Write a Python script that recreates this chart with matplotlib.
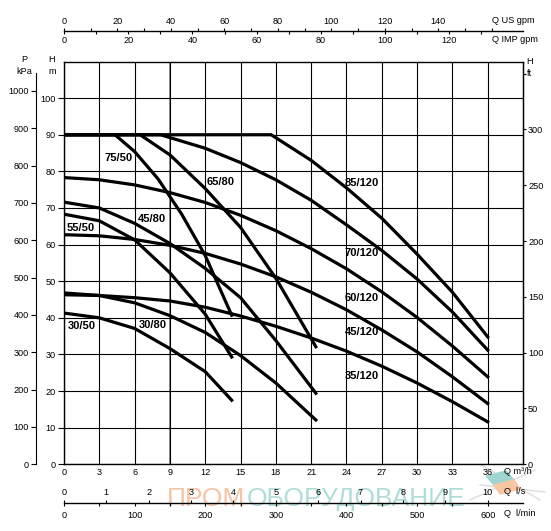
import numpy as np
import matplotlib
matplotlib.use('Agg')
import matplotlib.pyplot as plt
from matplotlib import font_manager
from matplotlib.ticker import FixedLocator
from matplotlib.patches import Polygon

# шрифт: вузький, якщо є
names = {f.name for f in font_manager.fontManager.ttflist}
narrow = 'Liberation Sans Narrow' if 'Liberation Sans Narrow' in names else 'Liberation Sans'
plt.rcParams['font.family'] = [narrow, 'DejaVu Sans']

# ---- дані кривих: Q, m3/h  ->  H, m ----
q_30_50 = [0, 3, 6, 9, 12, 14.25]
h_30_50 = [41.3, 40.0, 37.1, 31.6, 25.3, 17.5]

q_55_50 = [0, 3, 6, 9, 12, 14.25]
h_55_50 = [68.3, 66.5, 61.3, 52.3, 41.0, 29.3]

q_75_50 = [0, 4.33, 6, 8, 10, 12, 14.25]
h_75_50 = [90, 90, 85.4, 77.9, 68.3, 57.0, 40.7]

q_30_80 = [0, 3, 6, 9, 12, 15, 18, 21.4]
h_30_80 = [46.8, 46.1, 44.1, 40.6, 36.0, 29.7, 22.2, 12.1]

q_45_80 = [0, 3, 6, 9, 12, 15, 18, 21.4]
h_45_80 = [71.6, 70.0, 65.8, 60.3, 53.5, 45.5, 33.8, 19.4]

q_65_80 = [0, 6.46, 9, 12, 15, 18, 21.4]
h_65_80 = [90, 90, 84.5, 75.3, 64.7, 50.8, 32.1]

q_120 = [0, 3, 6, 9, 12, 15, 18, 21, 24, 27, 30, 33, 36]
h_35_120 = [46.3, 46.1, 45.5, 44.6, 42.9, 40.5, 37.7, 34.5, 30.9, 26.8, 22.2, 17.1, 11.6]
h_45_120 = [62.7, 62.4, 61.4, 59.8, 57.6, 54.7, 51.2, 47.0, 42.2, 36.7, 30.7, 23.9, 16.6]
h_60_120 = [78.3, 77.7, 76.3, 74.2, 71.5, 68.0, 63.8, 58.9, 53.4, 47.1, 40.1, 32.3, 23.9]

q_70_120 = [0, 8.2, 12, 15, 18, 21, 24, 27, 30, 33, 36]
h_70_120 = [90, 90, 86.3, 82.4, 77.7, 72.1, 65.4, 58.4, 50.6, 41.6, 31.2]

q_85_120 = [0, 17.6, 21, 24, 27, 30, 33, 36]
h_85_120 = [90, 90, 83.0, 75.5, 67.2, 57.4, 47.0, 34.8]

names_curves = ['30/50', '55/50', '75/50', '30/80', '45/80', '65/80',
                '35/120', '45/120', '60/120', '70/120', '85/120']

# ---- осі ----
m3h_ticks = np.arange(0, 37, 3)
h_m_ticks = np.arange(0, 101, 10)
kpa_ticks = np.arange(0, 1001, 100)
ft_ticks = np.arange(0, 351, 50)
ft_labels = ['0', '50', '100', '150', '200', '250', '300', '']
us_major = np.arange(0, 141, 20)
us_minor = np.arange(10, 161, 10)
imp_major = np.arange(0, 121, 20)
imp_minor = np.arange(10, 131, 10)
ls_ticks = np.arange(0, 11, 1)
lmin_major = np.arange(0, 601, 100)
lmin_minor = np.arange(50, 601, 50)

W, HP = 551, 531
x0, x1 = 64, 523
y_top, y_bot = 61.5, 464.3
QMAX, HMAX = 39, 110
fs = 6.6


def fx(px):
    return px / W


def fy(py):
    return 1 - py / HP


fig = plt.figure(figsize=(W / 100, HP / 100), dpi=100)
ax = fig.add_axes([fx(x0), fy(y_bot), fx(x1) - fx(x0), fy(y_top) - fy(y_bot)])
ax.set_xlim(0, QMAX)
ax.set_ylim(0, HMAX)
ax.set_xticks(m3h_ticks)
ax.set_yticks(h_m_ticks)
ax.grid(True, color='black', lw=0.8)
ax.axvline(9, color='#8a8a8a', lw=1.4, zorder=1.5)
ax.tick_params(axis='x', length=0, pad=2.7, labelsize=fs)
ax.tick_params(axis='y', length=4.3, width=0.8, pad=1.7, labelsize=fs)
for s in ax.spines.values():
    s.set_linewidth(1.0)

curves = [(q_30_50, h_30_50), (q_55_50, h_55_50), (q_75_50, h_75_50),
          (q_30_80, h_30_80), (q_45_80, h_45_80), (q_65_80, h_65_80),
          (q_120, h_35_120), (q_120, h_45_120), (q_120, h_60_120),
          (q_70_120, h_70_120), (q_85_120, h_85_120)]
for q, h in curves:
    ax.plot(q, h, color='black', lw=2.3, solid_joinstyle='round', zorder=3)

# підписи кривих (центри)
label_pos = {'30/50': (1.53, 37.9), '55/50': (1.4, 64.6), '75/50': (4.67, 83.7),
             '30/80': (7.52, 38.1), '45/80': (7.43, 67.0), '65/80': (13.3, 77.1),
             '35/120': (25.3, 24.1), '45/120': (25.3, 36.1), '60/120': (25.3, 45.5),
             '70/120': (25.3, 57.7), '85/120': (25.3, 76.8)}
for n in names_curves:
    xx, yy = label_pos[n]
    ax.text(xx, yy, n, ha='center', va='center', fontsize=8.0, fontweight='bold', zorder=4)

# шкала тиску, kPa
axp = ax.twinx()
axp.set_ylim(0, HMAX * 9.80665)
for s in ['right', 'top', 'bottom']:
    axp.spines[s].set_visible(False)
axp.spines['left'].set_visible(True)
axp.spines['left'].set_position(('outward', 28 * 0.72))
axp.spines['left'].set_bounds(0, 1048)
axp.yaxis.set_ticks_position('left')
axp.set_yticks(kpa_ticks)
axp.tick_params(length=3.6, width=0.8, pad=1.6, labelsize=fs)

# шкала напору, ft
axf = ax.twinx()
axf.set_ylim(0, HMAX / 0.3048)
for s in ['left', 'top', 'bottom']:
    axf.spines[s].set_visible(False)
axf.set_yticks(ft_ticks)
axf.set_yticklabels(ft_labels)
axf.tick_params(length=2.4, width=0.8, pad=1.2, labelsize=fs)


def scale_axis(py, xmax, major, minor, side, pad, spine=True):
    a = fig.add_axes([fx(x0), fy(py), fx(x1) - fx(x0), 1e-6])
    a.set_xlim(0, xmax)
    a.set_yticks([])
    a.patch.set_visible(False)
    for s in a.spines.values():
        s.set_visible(False)
    if spine:
        a.spines['bottom'].set_visible(True)
        a.spines['bottom'].set_linewidth(1.0)
    a.xaxis.set_ticks_position(side)
    a.set_xticks(major)
    a.xaxis.set_minor_locator(FixedLocator(minor))
    a.tick_params(which='both', direction='out', length=2.4, width=0.8)
    a.tick_params(which='major', pad=pad, labelsize=fs)
    return a


scale_axis(30.7, QMAX * 4.40287, us_major, us_minor, 'top', 1.2)
scale_axis(30.7, QMAX * 3.66615, imp_major, imp_minor, 'bottom', 1.6, spine=False)
scale_axis(503, QMAX / 3.6, ls_ticks, [], 'top', 2.1)
scale_axis(503, QMAX * 1000 / 60, lmin_major, lmin_minor, 'bottom', 3.3, spine=False)

# підписи одиниць
fig.text(fx(491.7), fy(20.7), 'Q US gpm', fontsize=fs, va='center')
fig.text(fx(491.7), fy(39.3), 'Q IMP gpm', fontsize=fs, va='center')
fig.text(fx(504), fy(472), 'Q m³/h', fontsize=fs, va='center')
fig.text(fx(504), fy(491.7), 'Q  l/s', fontsize=fs, va='center')
fig.text(fx(504), fy(514), 'Q  l/min', fontsize=fs, va='center')
fig.text(fx(24), fy(60), 'P', fontsize=fs, va='center', ha='center')
fig.text(fx(24), fy(71.7), 'kPa', fontsize=fs, va='center', ha='center')
fig.text(fx(52), fy(60), 'H', fontsize=fs, va='center', ha='center')
fig.text(fx(52), fy(71.5), 'm', fontsize=fs, va='center', ha='center')
fig.text(fx(526.5), fy(62), 'H', fontsize=fs, va='center', ha='left')
fig.text(fx(526.5), fy(73.5), 'ft', fontsize=fs, va='center', ha='left')

# водяний знак: підганяємо ширину під 167..465 px
wm_fs = 27
t1 = fig.text(fx(167), fy(506), 'ПРОМ', fontsize=wm_fs, color='#f6c4a4',
              va='baseline', ha='left', zorder=-1)
t2 = fig.text(0, fy(506), 'ОБОРУДОВАНИЕ', fontsize=wm_fs, color='#b0ddd9',
              va='baseline', ha='left', zorder=-1)
fig.canvas.draw()
r = fig.canvas.get_renderer()
wsum = t1.get_window_extent(r).width + t2.get_window_extent(r).width
wm_fs = wm_fs * 298 / wsum
t1.set_fontsize(wm_fs)
t2.set_fontsize(wm_fs)
fig.canvas.draw()
t2.set_x((t1.get_window_extent(r).x1 + 1) / W)

# логотип
teal = Polygon([(fx(486), fy(476)), (fx(506), fy(471)), (fx(514), fy(480)), (fx(494), fy(485))],
               closed=True, transform=fig.transFigure, color='#9fd6cf', zorder=-1)
orange = Polygon([(fx(494), fy(485)), (fx(514), fy(480)), (fx(520), fy(489)), (fx(500), fy(494))],
                 closed=True, transform=fig.transFigure, color='#f7c6a3', zorder=-1)
fig.patches.extend([teal, orange])
for (xa, ya, xb, yb) in [(478, 463, 540, 500), (470, 500, 535, 470), (480, 485, 545, 492)]:
    fig.add_artist(plt.Line2D([fx(xa), fx(xb)], [fy(ya), fy(yb)], transform=fig.transFigure,
                              color='#dddddd', lw=1.0, zorder=-2))

fig.savefig('out.png', dpi=100)
